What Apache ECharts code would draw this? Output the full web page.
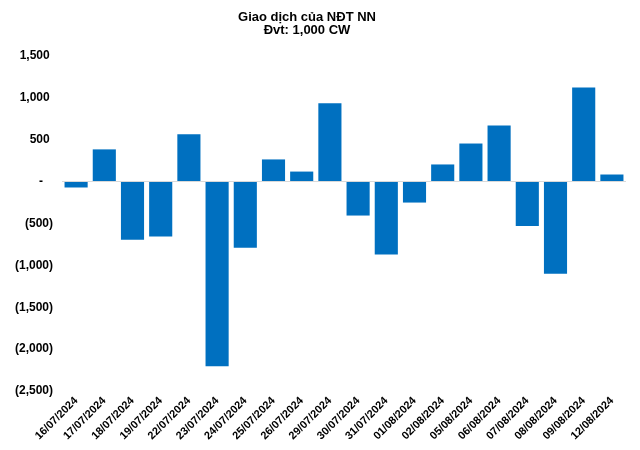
<!DOCTYPE html>
<html>
<head>
<meta charset="utf-8">
<script src="https://cdn.jsdelivr.net/npm/echarts@6/dist/echarts.min.js"></script>
<style>html,body{margin:0;padding:0;background:#fff}#c{width:640px;height:450px}</style>
</head>
<body>
<div id="c"></div>
<script>
var dates = ['16/07/2024','17/07/2024','18/07/2024','19/07/2024','22/07/2024','23/07/2024','24/07/2024','25/07/2024','26/07/2024','29/07/2024','30/07/2024','31/07/2024','01/08/2024','02/08/2024','05/08/2024','06/08/2024','07/08/2024','08/08/2024','09/08/2024','12/08/2024'];
var values = [-70, 385, -695, -655, 565, -2205, -790, 265, 120, 935, -405, -870, -250, 205, 455, 670, -530, -1100, 1125, 85];
var titleText = 'Giao dịch của NĐT NN\nĐvt: 1,000 CW';

function fmt(v) {
  if (v === 0) return '-\u00a0\u00a0\u00a0';
  var s = Math.abs(v).toLocaleString('en-US');
  return v < 0 ? '(' + s + ')' : s + '\u00a0';
}

var chart = echarts.init(document.getElementById('c'));
chart.setOption({
  animation: false,
  title: {
    text: titleText,
    left: 302,
    top: 6,
    textAlign: 'center',
    textStyle: {fontFamily: 'Liberation Sans, Arial', fontWeight: 'bold', fontSize: 13, color: '#000', lineHeight: 13}
  },
  grid: {left: 62, right: 14, top: 56, bottom: 59},
  xAxis: {
    type: 'category',
    data: dates,
    axisLine: {show: false, onZero: false},
    axisTick: {show: false},
    axisLabel: {rotate: 45, interval: 0, margin: 8, fontFamily: 'Liberation Sans, Arial', fontWeight: 'bold', fontSize: 11, color: '#000'}
  },
  yAxis: {
    type: 'value',
    min: -2500, max: 1500, interval: 500,
    splitLine: {show: false},
    axisLine: {show: false},
    axisTick: {show: false},
    axisLabel: {margin: 9, formatter: fmt, fontFamily: 'Liberation Sans, Arial', fontWeight: 'bold', fontSize: 12, color: '#000'}
  },
  series: [{
    type: 'bar',
    data: values,
    barCategoryGap: '18%',
    itemStyle: {color: '#0070C0'},
    markLine: {
      silent: true,
      symbol: 'none',
      label: {show: false},
      lineStyle: {color: '#d9d9d9', type: 'solid', width: 1},
      data: [{yAxis: 0}]
    }
  }]
});
</script>
</body>
</html>
